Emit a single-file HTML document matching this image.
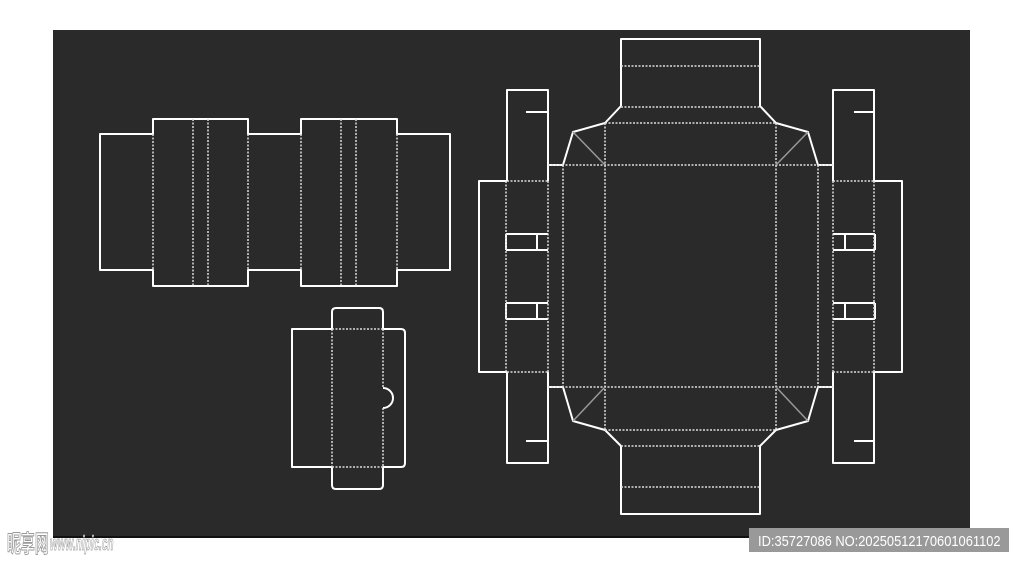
<!DOCTYPE html>
<html><head><style>
html,body{margin:0;padding:0;background:#fff;width:1024px;height:568px;overflow:hidden;font-family:"Liberation Sans",sans-serif}
</style></head><body>
<svg width="1024" height="568" viewBox="0 0 1024 568" style="position:absolute;left:0;top:0">
<rect x="53" y="30" width="917" height="507" fill="#2a2a2a"/>
<line x1="53" y1="537" x2="970" y2="537" stroke="#111" stroke-width="2"/>
<g fill="none" stroke="#fff" stroke-width="2" stroke-linejoin="round">
<path d="M153 134H100V270H153V286H248V270H301V286H397V270H450V134H397V119H301V134H248V119H153Z"/>
<path d="M332 329H292V467H332"/>
<path d="M383 329H401Q405 329 405 333V463Q405 467 401 467H383"/>
<path d="M332 329V312Q332 308 336 308H379Q383 308 383 312V329"/>
<path d="M332 467V485Q332 489 336 489H379Q383 489 383 485V467"/>
<path d="M383 388A10 10 0 0 1 383 408"/>
<path d="M621 106V39H760V106L776 123L808 132L818 165H833V181"/>
<path d="M621 106L605 123L573 132L563 165H548V181"/>
<path d="M548 372V387H563L573 421L605 430L621 446V514H760V446L776 430L808 421L818 387H833V372"/>
<path d="M507 181V90H548V181"/>
<path d="M526 112H548"/>
<path d="M507 181H479V372H507"/>
<path d="M507 372V463H548V372"/>
<path d="M526 441H548"/>
<path d="M506 234H548M506 250H548M537 234V250M506 234V250"/>
<path d="M506 303H548M506 319H548M537 303V319M506 303V319"/>
<path d="M833 181V90H874V181"/>
<path d="M854 112H874"/>
<path d="M874 181H902V372H874"/>
<path d="M833 372V463H874V372"/>
<path d="M854 441H874"/>
<path d="M833 234H875M833 250H875M845 234V250M875 234V250"/>
<path d="M833 303H875M833 319H875M845 303V319M875 303V319"/>
</g>
<g fill="none" stroke="#ddd" stroke-width="1.5" stroke-dasharray="2 1.5">
<path d="M153 134V270M193 119V286M208 119V286M248 134V270"/>
<path d="M301 134V270M341 119V286M356 119V286M397 134V270"/>
<path d="M332 329V467M383 329V388M383 408V467M332 329H383M332 467H383"/>
<path d="M621 66H760M621 107H760M605 123H776M548 165H833M548 387H833M605 430H776M621 446H760M621 487H760"/>
<path d="M563 165V387M605 123V430M776 123V430M818 165V387"/>
<path d="M506 181V372M548 181V372M507 181H548M507 372H548"/>
<path d="M833 181V372M874 181V372M833 181H874M833 372H874"/>
</g>
<g stroke="#999" stroke-width="1.5">
<path d="M573 132L605 165M808 132L776 165M573 421L605 387M808 421L776 387"/>
</g>
<g transform="translate(7,552) scale(0.58,1)">
<text x="0" y="0" font-size="24" font-weight="bold" fill="#fff" stroke="#999" stroke-width="1" font-family="'Liberation Sans','Noto Sans CJK SC',sans-serif">昵享网</text>
</g>
<g transform="translate(50,550) scale(0.5,1)">
<text x="0" y="0" font-size="20" font-style="italic" font-weight="bold" fill="#fff" stroke="#999" stroke-width="0.8">www.nipic.cn</text>
</g>
<rect x="749" y="528" width="260" height="24" fill="#999"/>
<g transform="translate(758,546) scale(0.86,1)">
<text x="0" y="0" font-size="15" fill="#fff">ID:35727086 NO:20250512170601061102</text>
</g>
</svg>
</body></html>
